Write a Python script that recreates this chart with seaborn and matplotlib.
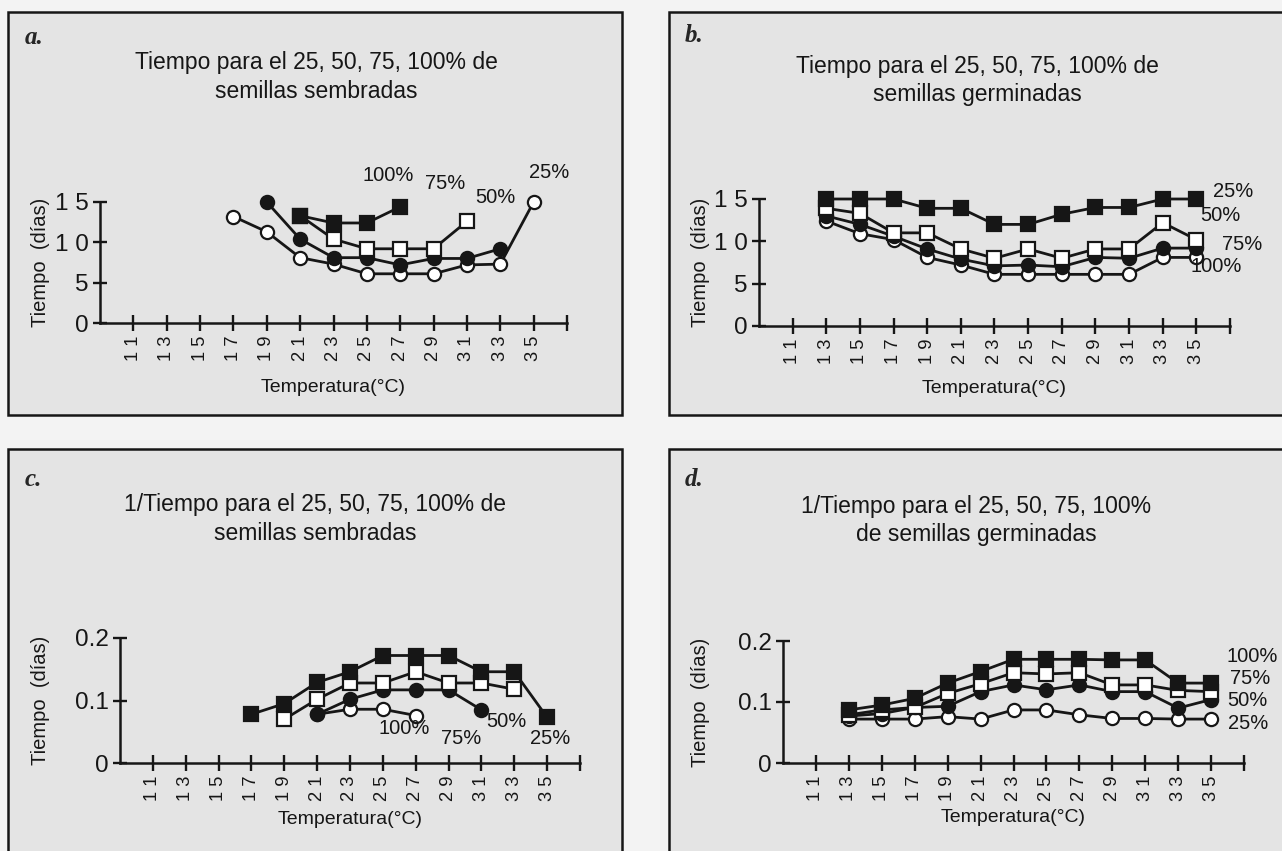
import pandas as pd
import matplotlib.pyplot as plt
import seaborn as sns
from matplotlib.patches import Rectangle

# Temperaturas (eje x)
TEMPS = [11, 13, 15, 17, 19, 21, 23, 25, 27, 29, 31, 33, 35]
GERM_T = [13, 15, 17, 19, 21, 23, 25, 27, 29, 31, 33, 35]

# a. Tiempo (dias) - semillas sembradas
a_t_25 = [17, 19, 21, 23, 25, 27, 29, 31, 33, 35]
a_d_25 = [13.2, 11.3, 8.1, 7.3, 6.1, 6.1, 6.1, 7.2, 7.3, 15.0]
a_t_50 = [19, 21, 23, 25, 27, 29, 31, 33]
a_d_50 = [15.0, 10.4, 8.1, 8.1, 7.2, 8.0, 8.0, 9.2]
a_t_75 = [21, 23, 25, 27, 29, 31]
a_d_75 = [13.3, 10.4, 9.2, 9.2, 9.2, 12.6]
a_t_100 = [21, 23, 25, 27]
a_d_100 = [13.3, 12.4, 12.4, 14.4]

# b. Tiempo (dias) - semillas germinadas
b_d_25 = [15.0, 15.0, 15.0, 13.9, 13.9, 12.0, 12.0, 13.2, 14.0, 14.0, 15.0, 15.0]
b_d_50 = [13.9, 13.3, 11.0, 11.0, 9.1, 8.0, 9.1, 8.0, 9.1, 9.1, 12.2, 10.2]
b_d_75 = [13.0, 12.0, 10.6, 9.1, 7.9, 7.1, 7.2, 7.0, 8.1, 8.0, 9.2, 9.2]
b_d_100 = [12.4, 10.9, 10.2, 8.1, 7.2, 6.1, 6.1, 6.1, 6.1, 6.1, 8.1, 8.1]

# c. 1/Tiempo - semillas sembradas
c_t_25 = [17, 19, 21, 23, 25, 27, 29, 31, 33, 35]
c_v_25 = [0.078, 0.095, 0.129, 0.146, 0.172, 0.172, 0.172, 0.146, 0.146, 0.073]
c_t_50 = [19, 21, 23, 25, 27, 29, 31, 33]
c_v_50 = [0.070, 0.102, 0.128, 0.128, 0.146, 0.128, 0.128, 0.118]
c_t_75 = [21, 23, 25, 27, 29, 31]
c_v_75 = [0.078, 0.102, 0.117, 0.117, 0.117, 0.085]
c_t_100 = [21, 23, 25, 27]
c_v_100 = [0.078, 0.086, 0.086, 0.076]

# d. 1/Tiempo - semillas germinadas
d_v_100 = [0.087, 0.095, 0.106, 0.131, 0.150, 0.170, 0.170, 0.170, 0.169, 0.169, 0.131, 0.131]
d_v_75 = [0.079, 0.087, 0.091, 0.114, 0.130, 0.148, 0.146, 0.148, 0.128, 0.128, 0.119, 0.117]
d_v_50 = [0.077, 0.081, 0.091, 0.093, 0.117, 0.128, 0.120, 0.128, 0.117, 0.117, 0.090, 0.104]
d_v_25 = [0.072, 0.072, 0.072, 0.076, 0.072, 0.087, 0.087, 0.079, 0.073, 0.073, 0.072, 0.072]

W, H = 1282, 851
INK = '#161616'
PANEL_BG = '#e4e4e4'
PAGE_BG = '#f3f3f3'

sns.set_style('ticks')
plt.rcParams['font.family'] = ['Liberation Sans', 'DejaVu Sans']

# marker kinds: (marker, facecolor)
KINDS = {'oc': ('o', 'white'), 'fc': ('o', INK), 'os': ('s', 'white'), 'fs': ('s', INK)}


def fx(x):
    return x / W


def fy(y):
    return 1 - y / H


def panel(box, rect, letter, letter_xy, title, title_xy, ymax, yticks, yticklabels,
          series, labels, xlabel_y):
    x0, y0, x1, y1 = box
    fig.add_artist(Rectangle((fx(x0), fy(y1)), fx(x1 - x0), (y1 - y0) / H,
                             transform=fig.transFigure, fc=PANEL_BG, ec=INK,
                             lw=1.8, zorder=-5))
    fig.text(fx(letter_xy[0]), fy(letter_xy[1]), letter, family='Liberation Serif',
             fontweight='bold', fontstyle='italic', fontsize=18, ha='left', va='center')
    for i, line in enumerate(title.split('\n')):
        fig.text(fx(title_xy[0]), fy(title_xy[1] + 28 * i), line, fontsize=16.5,
                 ha='center', va='center', color=INK)

    l, r, t, b = rect
    ax = fig.add_axes([fx(l), fy(b), fx(r - l), (b - t) / H])
    ax.set_facecolor('none')
    for kind, xs, ys in series:
        m, fc = KINDS[kind]
        df = pd.DataFrame({'temp': xs, 'valor': ys})
        sns.lineplot(data=df, x='temp', y='valor', ax=ax, color=INK, lw=2.0,
                     marker=m, markersize=9.5, markerfacecolor=fc, markeredgecolor=INK,
                     markeredgewidth=1.6, estimator=None, errorbar=None, clip_on=False)
    for txt, lx, ly in labels:
        ax.text(lx, ly, txt, fontsize=14.5, ha='center', va='center', color=INK)

    ax.set_xlim(9, 37)
    ax.set_ylim(0, ymax)
    sns.despine(ax=ax)
    for s in ('left', 'bottom'):
        ax.spines[s].set_linewidth(1.8)
        ax.spines[s].set_color(INK)
    ax.set_xticks(TEMPS + [37])
    ax.set_xticklabels([' '.join(str(t)) for t in TEMPS] + [''], rotation=90)
    ax.set_yticks(yticks)
    ax.set_yticklabels(yticklabels)
    ax.tick_params(axis='x', direction='inout', length=12, width=1.7, pad=3,
                   labelsize=13.2, colors=INK)
    ax.tick_params(axis='y', direction='inout', length=10, width=1.7, pad=3,
                   labelsize=17.5, colors=INK)
    ax.set_xlabel('Temperatura(°C)', fontsize=14, va='center', color=INK)
    ax.xaxis.set_label_coords(0.5, (b - xlabel_y) / (b - t))
    ax.set_ylabel('Tiempo  (días)', fontsize=14.5, va='center', color=INK)
    ax.yaxis.set_label_coords((41 + (0 if l < 640 else 660) - l) / (r - l), 0.5)
    return ax


fig = plt.figure(figsize=(W / 100, H / 100), dpi=100, facecolor=PAGE_BG)

tiempo_ticks = [0, 5, 10, 15]
tiempo_labels = ['0', '5', '1 0', '1 5']
inv_ticks = [0, 0.1, 0.2]
inv_labels = ['0', '0.1', '0.2']

panel((8, 12, 622, 415), (100, 567, 202, 323), 'a.', (25, 38),
      'Tiempo para el 25, 50, 75, 100% de\nsemillas sembradas', (316, 63),
      15, tiempo_ticks, tiempo_labels,
      [('oc', a_t_25, a_d_25), ('fc', a_t_50, a_d_50),
       ('os', a_t_75, a_d_75), ('fs', a_t_100, a_d_100)],
      [('100%', 26.3, 18.3), ('75%', 29.7, 17.3), ('50%', 32.7, 15.6), ('25%', 35.9, 18.6)],
      388)

panel((669, 12, 1300, 415), (759, 1230, 199, 326), 'b.', (685, 35),
      'Tiempo para el 25, 50, 75, 100% de\nsemillas germinadas', (977, 66),
      15, tiempo_ticks, tiempo_labels,
      [('oc', GERM_T, b_d_100), ('fc', GERM_T, b_d_75),
       ('os', GERM_T, b_d_50), ('fs', GERM_T, b_d_25)],
      [('25%', 37.2, 15.9), ('50%', 36.4, 13.1), ('75%', 37.7, 9.6), ('100%', 36.2, 7.0)],
      388)

panel((8, 449, 622, 870), (120, 580, 638, 763), 'c.', (25, 480),
      '1/Tiempo para el 25, 50, 75, 100% de\nsemillas sembradas', (315, 505),
      0.2, inv_ticks, inv_labels,
      [('oc', c_t_100, c_v_100), ('fc', c_t_75, c_v_75),
       ('os', c_t_50, c_v_50), ('fs', c_t_25, c_v_25)],
      [('100%', 26.3, 0.056), ('75%', 29.75, 0.040), ('50%', 32.5, 0.066), ('25%', 35.2, 0.040)],
      820)

panel((669, 449, 1300, 870), (783, 1244, 641, 763), 'd.', (685, 480),
      '1/Tiempo para el 25, 50, 75, 100%\nde semillas germinadas', (976, 507),
      0.2, inv_ticks, inv_labels,
      [('oc', GERM_T, d_v_25), ('fc', GERM_T, d_v_50),
       ('os', GERM_T, d_v_75), ('fs', GERM_T, d_v_100)],
      [('100%', 37.5, 0.175), ('75%', 37.4, 0.138), ('50%', 37.2, 0.102), ('25%', 37.25, 0.064)],
      818)

fig.savefig('out.png', dpi=100, facecolor=PAGE_BG)
